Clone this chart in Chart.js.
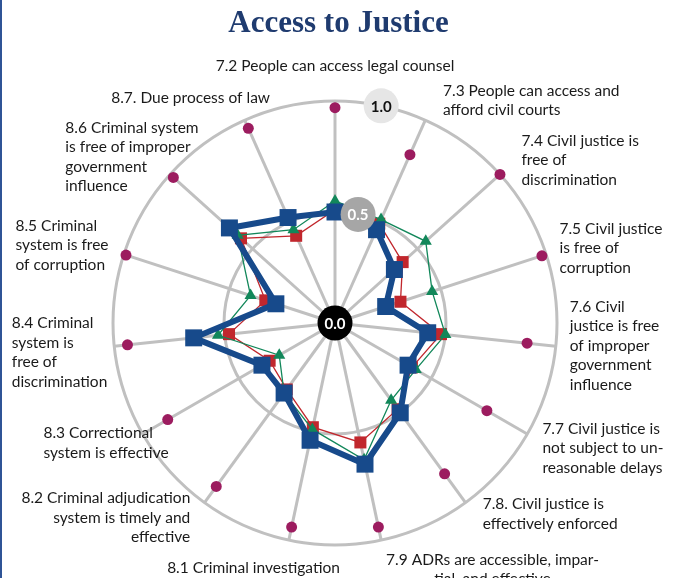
<!DOCTYPE html>
<html>
<head>
<meta charset="utf-8">
<title>Access to Justice</title>
<script src="https://cdn.jsdelivr.net/npm/chart.js@4.4.1/dist/chart.umd.min.js"></script>
<style>
  html, body { margin: 0; padding: 0; background: #fff; overflow: hidden; }
  #frame { position: relative; width: 677px; height: 578px; overflow: hidden; }
  #frame::before { content: ''; position: absolute; left: 0; top: 0; bottom: 0; width: 2px; background: #2f5496; z-index: 2; }
  h1 { position: absolute; left: 0; right: 0; top: 0; margin: 0; text-align: center;
       font: bold 31px "Liberation Serif", serif; color: #1f3b6f; line-height: 44px; z-index: 1; }
  canvas { position: absolute; left: 0; top: 0; }
</style>
</head>
<body>
<div id="frame">
  <h1>Access to Justice</h1>
  <canvas id="myChart" width="677" height="640"></canvas>
</div>
<script>
// spoke labels, clockwise from the top
const categories = [
    ['7.2 People can access legal counsel'],
    ['7.3 People can access and', 'afford civil courts'],
    ['7.4 Civil justice is', 'free of', 'discrimination'],
    ['7.5 Civil justice', 'is free of', 'corruption'],
    ['7.6 Civil', 'justice is free', 'of improper', 'government', 'influence'],
    ['7.7 Civil justice is', 'not subject to un-', 'reasonable delays'],
    ['7.8. Civil justice is', 'effectively enforced'],
    ['7.9 ADRs are accessible, impar-', 'tial, and effective'],
    ['8.1 Criminal investigation'],
    ['8.2 Criminal adjudication', 'system is timely and', 'effective'],
    ['8.3 Correctional', 'system is effective'],
    ['8.4 Criminal', 'system is', 'free of', 'discrimination'],
    ['8.5 Criminal', 'system is free', 'of corruption'],
    ['8.6 Criminal system', 'is free of improper', 'government', 'influence'],
    ['8.7. Due process of law']
];

const countryScores = [0.50, 0.46, 0.36, 0.24, 0.42, 0.38, 0.50, 0.65, 0.54, 0.39, 0.38, 0.64, 0.28, 0.64, 0.52];
const regionScores  = [0.51, 0.49, 0.41, 0.31, 0.48, 0.40, 0.48, 0.55, 0.48, 0.37, 0.34, 0.48, 0.33, 0.57, 0.43];
const incomeScores  = [0.55, 0.51, 0.55, 0.46, 0.50, 0.42, 0.43, 0.63, 0.49, 0.39, 0.29, 0.53, 0.40, 0.59, 0.46];
const topScores     = [0.97, 0.83, 1.00, 0.98, 0.87, 0.79, 0.84, 0.94, 0.94, 0.91, 0.87, 0.94, 0.99, 0.98, 0.96];

const tickValues = [0, 0.5, 1.0];
const tickFills = ['#000000', '#a6a6a6', '#e6e6e6'];
const tickTextColors = ['#ffffff', '#ffffff', '#111111'];

// round badges with the scale values, half a spoke right of the top
const tickBadges = {
    id: 'tickBadges',
    afterDatasetsDraw(chart) {
        const scale = chart.scales.r;
        const ctx = chart.ctx;
        const half = Math.PI / categories.length;
        ctx.save();
        ctx.font = 'bold 15px Lato';
        ctx.textAlign = 'center';
        ctx.textBaseline = 'middle';
        tickValues.forEach(function (v, i) {
            const d = scale.getDistanceFromCenterForValue(v);
            const x = scale.xCenter + d * Math.sin(half);
            const y = scale.yCenter - d * Math.cos(half);
            ctx.beginPath();
            ctx.arc(x, y, 17.5, 0, Math.PI * 2);
            ctx.fillStyle = tickFills[i];
            ctx.fill();
            ctx.fillStyle = tickTextColors[i];
            ctx.fillText(v.toFixed(1), x, y + 1);
        });
        ctx.restore();
    }
};

// multi-line labels at the spoke ends
const spokeLabels = {
    id: 'spokeLabels',
    afterDraw(chart, args, opts) {
        const scale = chart.scales.r;
        const ctx = chart.ctx;
        const n = categories.length;
        ctx.save();
        ctx.font = opts.font;
        ctx.fillStyle = opts.color;
        ctx.textBaseline = 'middle';
        ctx.textAlign = 'left';
        categories.forEach(function (lines, i) {
            const p = scale.getPointPosition(i, scale.drawingArea + opts.padding);
            const deg = i * 360 / n;
            const w = Math.max(...lines.map(l => ctx.measureText(l).width));
            const h = lines.length * opts.lineHeight;
            let left, top;
            if (deg === 0) left = p.x - w / 2;
            else if (deg < 180) left = p.x;
            else left = p.x - w;
            if (deg === 0) top = p.y - h;
            else if (deg > 150 && deg < 210) top = p.y;
            else top = p.y - h / 2;
            left += opts.nudges[i][0];
            top += opts.nudges[i][1];
            const align = opts.align[i];
            lines.forEach(function (line, k) {
                const lw = ctx.measureText(line).width;
                let x = left;
                if (align === 'center') x = left + (w - lw) / 2;
                else if (align === 'right') x = left + w - lw;
                ctx.fillText(line, x, top + opts.lineHeight * (k + 0.5));
            });
        });
        ctx.restore();
    }
};

const data = {
    labels: categories.map(l => l.join(' ')),
    datasets: [{
        label: 'Country',
        data: countryScores,
        borderColor: '#174a8b',
        backgroundColor: '#174a8b',
        borderWidth: 6,
        pointStyle: 'rect',
        pointRadius: 12,
        pointBorderWidth: 0,
        fill: false
    }, {
        label: 'Income group',
        data: incomeScores,
        borderColor: '#12875a',
        backgroundColor: '#12875a',
        borderWidth: 1.3,
        pointStyle: 'triangle',
        pointRadius: 7,
        pointBorderWidth: 0,
        fill: false
    }, {
        label: 'Region',
        data: regionScores,
        borderColor: '#c1272d',
        backgroundColor: '#c1272d',
        borderWidth: 1.3,
        pointStyle: 'rect',
        pointRadius: 8.5,
        pointBorderWidth: 0,
        fill: false
    }, {
        label: 'Top score',
        data: topScores,
        showLine: false,
        borderColor: '#9c1c5f',
        backgroundColor: '#9c1c5f',
        pointStyle: 'circle',
        pointRadius: 5.5,
        pointBorderWidth: 0,
        fill: false
    }]
};

const ctx = document.getElementById('myChart').getContext('2d');
const myChart = new Chart(ctx, {
    type: 'radar',
    data: data,
    plugins: [tickBadges, spokeLabels],
    options: {
        responsive: false,
        animation: false,
        layout: { padding: { left: 113, right: 120, top: 101, bottom: 95 } },
        elements: { line: { tension: 0 } },
        scales: {
            r: {
                min: 0,
                max: 1,
                ticks: { display: false, stepSize: 0.5 },
                grid: { circular: true, color: '#c0c0c0', lineWidth: 3 },
                angleLines: { color: '#c0c0c0', lineWidth: 3 },
                pointLabels: { display: false }
            }
        },
        plugins: {
            legend: { display: false },
            tooltip: { enabled: false },
            spokeLabels: {
                font: '15.5px Lato',
                color: '#1a1a1a',
                lineHeight: 19.5,
                padding: 14,
                align: ['center', 'left', 'left', 'left', 'left', 'left', 'left', 'center',
                        'center', 'right', 'left', 'left', 'left', 'left', 'left'],
                nudges: [[0, -11], [12, -7], [11, -5], [0, -2], [0, -2], [3, 7], [9, 0], [2, -4],
                         [54, 4], [-6, 4], [38, 2], [7, 5], [-2, -5], [39, -8], [31, -9]]
            }
        }
    }
});
</script>
</body>
</html>
